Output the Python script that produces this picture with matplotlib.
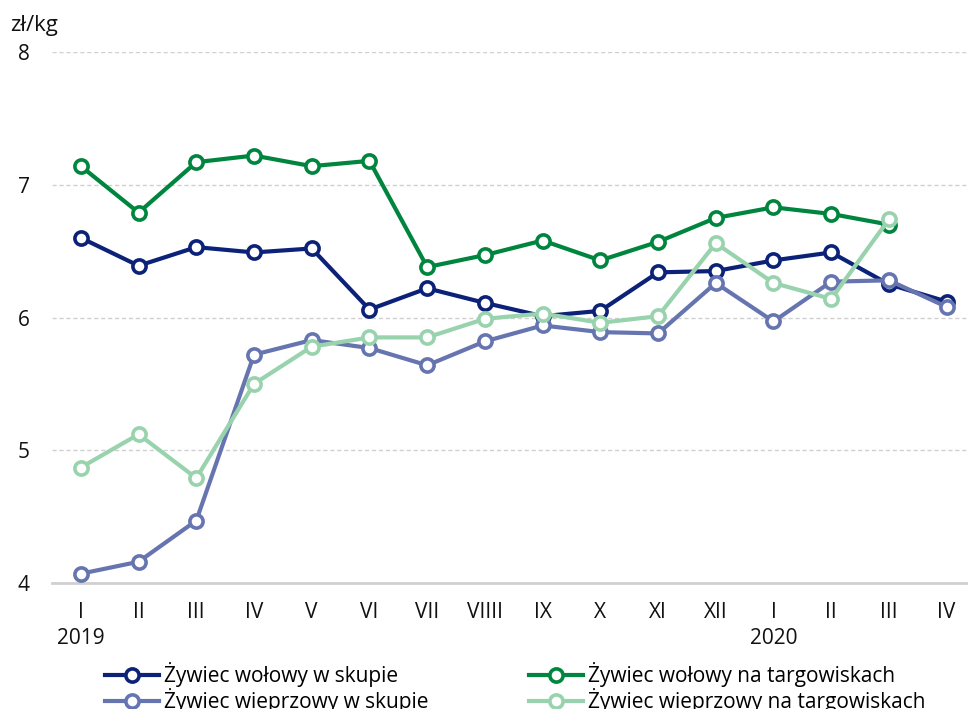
import numpy as np
import matplotlib
matplotlib.use("Agg")
import matplotlib.pyplot as plt

plt.rcParams["font.family"] = ["Open Sans", "DejaVu Sans"]

# -----------------------------------------------------------------------------
# data (zł/kg), months I 2019 .. IV 2020
# -----------------------------------------------------------------------------
months = ["I", "II", "III", "IV", "V", "VI", "VII", "VIIII", "IX", "X", "XI", "XII",
          "I", "II", "III", "IV"]
years = ["2019", "2020"]
year_pos = [0, 12]

wol_skup = [6.60, 6.39, 6.53, 6.49, 6.52, 6.06, 6.22, 6.11, 6.01, 6.05, 6.34, 6.35,
            6.43, 6.49, 6.25, 6.12]
wol_targ = [7.14, 6.79, 7.17, 7.22, 7.14, 7.18, 6.38, 6.47, 6.58, 6.43, 6.57, 6.75,
            6.83, 6.78, 6.70, np.nan]
wiep_skup = [4.07, 4.16, 4.47, 5.72, 5.83, 5.77, 5.64, 5.82, 5.94, 5.89, 5.88, 6.26,
             5.97, 6.27, 6.28, 6.08]
wiep_targ = [4.87, 5.12, 4.79, 5.50, 5.78, 5.85, 5.85, 5.99, 6.03, 5.96, 6.01, 6.56,
             6.26, 6.14, 6.74, np.nan]

series = [
    ("Żywiec wołowy w skupie", wol_skup, "#0b2278"),
    ("Żywiec wołowy na targowiskach", wol_targ, "#00853f"),
    ("Żywiec wieprzowy w skupie", wiep_skup, "#6675b0"),
    ("Żywiec wieprzowy na targowiskach", wiep_targ, "#98d3ae"),
]

# -----------------------------------------------------------------------------
# plot
# -----------------------------------------------------------------------------
fig = plt.figure(figsize=(9.68, 7.09), dpi=100)
ax = fig.add_axes([52 / 968, 1 - 583 / 709, 1 - 52 / 968, (583 - 52) / 709])

x = np.arange(len(months))
lines = {}
for name, vals, col in series:
    (ln,) = ax.plot(x, vals, color=col, lw=3, marker="o", ms=9.5, mfc="white",
                    mec=col, mew=2.6, label=name, clip_on=False, zorder=3)
    lines[name] = ln

ax.set_xlim(-0.5, 15.37)
ax.set_ylim(4, 8)
ax.set_yticks([4, 5, 6, 7, 8])
ax.set_xticks(x)
ax.set_xticklabels(months)
ax.tick_params(axis="both", length=0, labelsize=15, colors="#111111")
ax.tick_params(axis="y", pad=16)
ax.tick_params(axis="x", pad=14)
for lab in ax.get_yticklabels():
    lab.set_horizontalalignment("right")

ax.grid(axis="y", color="#d0d0d0", ls=(0, (3, 2)), lw=1)
ax.set_axisbelow(True)
for s in ["top", "right", "left"]:
    ax.spines[s].set_visible(False)
ax.spines["bottom"].set_color("#d0d0d0")
ax.spines["bottom"].set_linewidth(2)
ax.spines["bottom"].set_zorder(1)

for yr, p in zip(years, year_pos):
    ax.annotate(yr, xy=(p, 0), xycoords=("data", "axes fraction"), xytext=(0, -56),
                textcoords="offset pixels", ha="center", va="center", fontsize=15,
                color="#111111")

fig.text(10 / 968, 1 - 26 / 709, "zł/kg", fontsize=16, va="center", ha="left",
         color="#111111")

order = ["Żywiec wołowy w skupie", "Żywiec wieprzowy w skupie",
         "Żywiec wołowy na targowiskach", "Żywiec wieprzowy na targowiskach"]
fig.legend([lines[n] for n in order], order, ncol=2, loc="upper left",
           bbox_to_anchor=(105 / 968, 1 - 662 / 709), frameon=False, fontsize=15,
           handlelength=2.6, handletextpad=0.25, columnspacing=4.8,
           labelspacing=0.05, borderpad=0, borderaxespad=0)

fig.savefig("out.png", dpi=100)
